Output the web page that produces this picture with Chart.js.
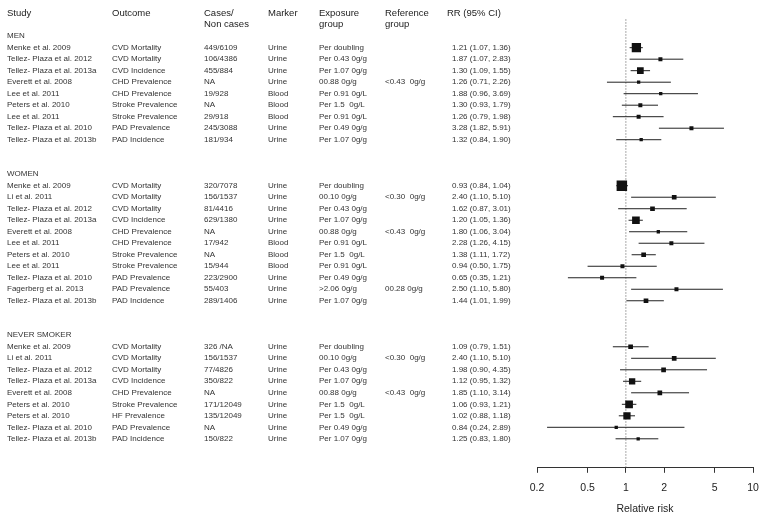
<!DOCTYPE html>
<html>
<head>
<meta charset="utf-8">
<title>Relative risk forest plot</title>
<script src="https://cdn.jsdelivr.net/npm/chart.js@4.4.1/dist/chart.umd.min.js"></script>
<style>
    html, body { margin: 0; padding: 0; background: #fff; }
    #wrap { width: 764px; height: 519px; }
</style>
</head>
<body>
<div id="wrap"><canvas id="forestChart" width="764" height="519"></canvas></div>
<script>
// Groups and number of studies in each
const groups = ['MEN', 'WOMEN', 'NEVER SMOKER'];
const groupSizes = [9, 11, 9];

// Table columns (one entry per study, in order)
const studies = [
    'Menke et al. 2009', 'Tellez- Plaza et al. 2012', 'Tellez- Plaza et al. 2013a', 'Everett et al. 2008',
    'Lee et al. 2011', 'Peters et al. 2010', 'Lee et al. 2011', 'Tellez- Plaza et al. 2010', 'Tellez- Plaza et al. 2013b',

    'Menke et al. 2009', 'Li et al. 2011', 'Tellez- Plaza et al. 2012', 'Tellez- Plaza et al. 2013a',
    'Everett et al. 2008', 'Lee et al. 2011', 'Peters et al. 2010', 'Lee et al. 2011',
    'Tellez- Plaza et al. 2010', 'Fagerberg et al. 2013', 'Tellez- Plaza et al. 2013b',

    'Menke et al. 2009', 'Li et al. 2011', 'Tellez- Plaza et al. 2012', 'Tellez- Plaza et al. 2013a',
    'Everett et al. 2008', 'Peters et al. 2010', 'Peters et al. 2010', 'Tellez- Plaza et al. 2010', 'Tellez- Plaza et al. 2013b'
];
const outcomes = [
    'CVD Mortality', 'CVD Mortality', 'CVD Incidence', 'CHD Prevalence', 'CHD Prevalence',
    'Stroke Prevalence', 'Stroke Prevalence', 'PAD Prevalence', 'PAD Incidence',

    'CVD Mortality', 'CVD Mortality', 'CVD Mortality', 'CVD Incidence', 'CHD Prevalence', 'CHD Prevalence',
    'Stroke Prevalence', 'Stroke Prevalence', 'PAD Prevalence', 'PAD Prevalence', 'PAD Incidence',

    'CVD Mortality', 'CVD Mortality', 'CVD Mortality', 'CVD Incidence', 'CHD Prevalence',
    'Stroke Prevalence', 'HF Prevalence', 'PAD Prevalence', 'PAD Incidence'
];
const cases = [
    '449/6109', '106/4386', '455/884', 'NA', '19/928', 'NA', '29/918', '245/3088', '181/934',
    '320/7078', '156/1537', '81/4416', '629/1380', 'NA', '17/942', 'NA', '15/944', '223/2900', '55/403', '289/1406',
    '326 /NA', '156/1537', '77/4826', '350/822', 'NA', '171/12049', '135/12049', 'NA', '150/822'
];
const markers = [
    'Urine', 'Urine', 'Urine', 'Urine', 'Blood', 'Blood', 'Blood', 'Urine', 'Urine',
    'Urine', 'Urine', 'Urine', 'Urine', 'Urine', 'Blood', 'Blood', 'Blood', 'Urine', 'Urine', 'Urine',
    'Urine', 'Urine', 'Urine', 'Urine', 'Urine', 'Urine', 'Urine', 'Urine', 'Urine'
];
const exposures = [
    'Per doubling', 'Per 0.43 0g/g', 'Per 1.07 0g/g', '00.88 0g/g', 'Per 0.91 0g/L',
    'Per 1.5  0g/L', 'Per 0.91 0g/L', 'Per 0.49 0g/g', 'Per 1.07 0g/g',

    'Per doubling', '00.10 0g/g', 'Per 0.43 0g/g', 'Per 1.07 0g/g', '00.88 0g/g', 'Per 0.91 0g/L',
    'Per 1.5  0g/L', 'Per 0.91 0g/L', 'Per 0.49 0g/g', '>2.06 0g/g', 'Per 1.07 0g/g',

    'Per doubling', '00.10 0g/g', 'Per 0.43 0g/g', 'Per 1.07 0g/g', '00.88 0g/g',
    'Per 1.5  0g/L', 'Per 1.5  0g/L', 'Per 0.49 0g/g', 'Per 1.07 0g/g'
];
const references = [
    '', '', '', '<0.43  0g/g', '', '', '', '', '',
    '', '<0.30  0g/g', '', '', '<0.43  0g/g', '', '', '', '', '00.28 0g/g', '',
    '', '<0.30  0g/g', '', '', '<0.43  0g/g', '', '', '', ''
];

// Relative risks with 95% CI
const rr = [
    1.21, 1.87, 1.30, 1.26, 1.88, 1.30, 1.26, 3.28, 1.32,
    0.93, 2.40, 1.62, 1.20, 1.80, 2.28, 1.38, 0.94, 0.65, 2.50, 1.44,
    1.09, 2.40, 1.98, 1.12, 1.85, 1.06, 1.02, 0.84, 1.25
];
const lower = [
    1.07, 1.07, 1.09, 0.71, 0.96, 0.93, 0.79, 1.82, 0.84,
    0.84, 1.10, 0.87, 1.05, 1.06, 1.26, 1.11, 0.50, 0.35, 1.10, 1.01,
    0.79, 1.10, 0.90, 0.95, 1.10, 0.93, 0.88, 0.24, 0.83
];
const upper = [
    1.36, 2.83, 1.55, 2.26, 3.69, 1.79, 1.98, 5.91, 1.90,
    1.04, 5.10, 3.01, 1.36, 3.04, 4.15, 1.72, 1.75, 1.21, 5.80, 1.99,
    1.51, 5.10, 4.35, 1.32, 3.14, 1.21, 1.18, 2.89, 1.80
];
// Relative study weights (box area)
const weights = [
    86, 16, 45, 11, 11, 16, 16, 16, 11,
    110, 22, 22, 59, 11, 16, 22, 16, 16, 16, 22,
    22, 22, 22, 40, 22, 59, 53, 11, 11
];

const xTicks = [0.2, 0.5, 1, 2, 5, 10];

// Column headers
const headers = [
    ['Study'], ['Outcome'], ['Cases/', 'Non cases'], ['Marker'],
    ['Exposure', 'group'], ['Reference', 'group'], ['RR (95% CI)']
];

const FONT = '"Liberation Sans", Arial, sans-serif';

// Row index of every group header and every study (3 rows between groups)
const groupRow = [];
const studyRow = [];
let next = 0;
groupSizes.forEach((n, g) => {
    groupRow.push(next);
    for (let k = 1; k <= n; k++) studyRow.push(next + k);
    next += n + 3;
});

const yTop = -2.5;
const yBottom = 37.52;

const rrLabels = rr.map((v, i) => v.toFixed(2) + ' (' + lower[i].toFixed(2) + ', ' + upper[i].toFixed(2) + ')');

// CI lines: one line dataset, segments separated by gaps
const ciPoints = [];
studyRow.forEach((r, i) => {
    ciPoints.push({ x: lower[i], y: r });
    ciPoints.push({ x: upper[i], y: r });
    ciPoints.push({ x: upper[i], y: null });
});

// Table drawn to the left of the plot, on the same rows
const tablePlugin = {
    id: 'studyTable',
    afterDraw: function(chart) {
        const ctx = chart.ctx;
        const y = chart.scales.y;
        const colX = [7, 112, 204, 268, 319, 385, 452];
        const headX = [7, 112, 204, 268, 319, 385, 447];

        ctx.save();
        ctx.textBaseline = 'middle';
        ctx.textAlign = 'left';

        ctx.fillStyle = '#222';
        ctx.font = '9.5px ' + FONT;
        headers.forEach((lines, c) => {
            lines.forEach((t, k) => ctx.fillText(t, headX[c], y.getPixelForValue(-2 + k)));
        });

        ctx.fillStyle = '#333';
        ctx.font = '8px ' + FONT;
        groups.forEach((g, gi) => ctx.fillText(g, colX[0], y.getPixelForValue(groupRow[gi])));

        studyRow.forEach((r, i) => {
            const py = y.getPixelForValue(r);
            const cells = [studies[i], outcomes[i], cases[i], markers[i], exposures[i], references[i], rrLabels[i]];
            cells.forEach((t, c) => { if (t) ctx.fillText(t, colX[c], py); });
        });
        ctx.restore();
    }
};

new Chart(document.getElementById('forestChart'), {
    data: {
        datasets: [
            {
                type: 'scatter',
                data: studyRow.map((r, i) => ({ x: rr[i], y: r })),
                pointStyle: 'rect',
                pointRadius: weights.map(w => Math.sqrt(w) / Math.SQRT2),
                backgroundColor: '#111',
                borderWidth: 0
            },
            {
                type: 'line',
                data: ciPoints,
                borderColor: '#222',
                borderWidth: 1,
                pointRadius: 0,
                spanGaps: false
            },
            {
                type: 'line',
                data: [{ x: 1, y: -1.45 }, { x: 1, y: yBottom }],
                borderColor: '#555',
                borderWidth: 1,
                borderDash: [1, 2],
                pointRadius: 0
            }
        ]
    },
    options: {
        responsive: false,
        animation: false,
        layout: {
            padding: { left: 537, right: 11, top: 5.5, bottom: 4 }
        },
        plugins: {
            legend: { display: false },
            tooltip: { enabled: false }
        },
        scales: {
            x: {
                type: 'logarithmic',
                min: 0.2,
                max: 10,
                afterBuildTicks: function(scale) {
                    scale.ticks = xTicks.map(v => ({ value: v }));
                },
                afterFit: function(scale) {
                    // the page margins already leave room for the end labels
                    scale.paddingLeft = 0;
                    scale.paddingRight = 0;
                },
                ticks: {
                    autoSkip: false,
                    maxRotation: 0,
                    padding: 9,
                    color: '#222',
                    font: { size: 10.5, family: FONT },
                    callback: function(value) {
                        return String(value);
                    }
                },
                grid: {
                    drawOnChartArea: false,
                    drawTicks: true,
                    tickLength: 5,
                    color: '#333'
                },
                border: { display: true, color: '#333', width: 1 },
                title: {
                    display: true,
                    text: 'Relative risk',
                    color: '#222',
                    font: { size: 10.5, family: FONT },
                    padding: { top: -1, bottom: 0 }
                }
            },
            y: {
                type: 'linear',
                display: false,
                reverse: true,
                min: yTop,
                max: yBottom
            }
        }
    },
    plugins: [tablePlugin]
});
</script>
</body>
</html>
